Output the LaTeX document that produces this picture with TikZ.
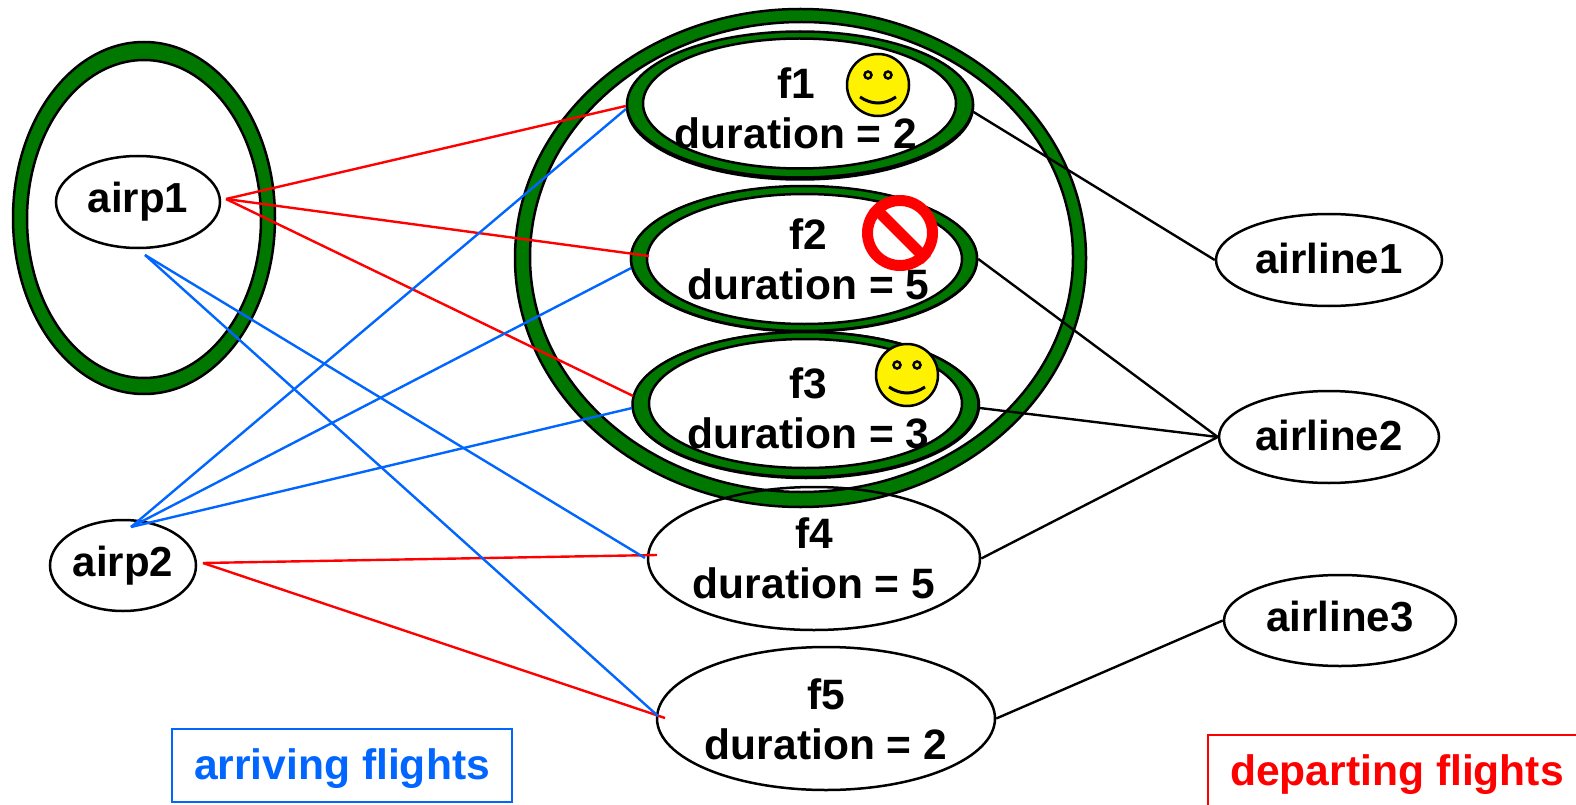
\documentclass[tikz,border=0pt]{standalone}
\usepackage{fontspec}
\setmainfont{Liberation Sans}
\usetikzlibrary{shapes.geometric}
\definecolor{ringgreen}{RGB}{0,120,0}
\definecolor{arriveblue}{RGB}{0,102,255}
\tikzset{
	oval/.style={draw=black, line width=2.5pt, ellipse, inner sep=0pt, align=center, font={\fontsize{42}{50}\bfseries\selectfont}},
	ring/.style={draw=black, line width=2.5pt, fill=ringgreen, even odd rule},
	caption/.style={align=center, font={\fontsize{42.5}{50}\bfseries\selectfont}},
	keybox/.style={draw, line width=2.5pt, rectangle, inner sep=0pt, text height=30pt, text depth=2pt, font={\fontsize{42.6}{50}\bfseries\selectfont}},
	arrive/.style={arriveblue, line width=2.4pt},
	depart/.style={red, line width=2.4pt},
	carrier/.style={black, line width=2.4pt},
	smiley/.pic={
		\draw[black, line width=2.5pt, fill=yellow] (0,0) circle (31);
		\draw[black, line width=2.5pt, fill=yellow] (-10,-10) circle (3.5);
		\draw[black, line width=2.5pt, fill=yellow] (10,-10) circle (3.5);
		\draw[black, line width=3pt] (-18,12) .. controls (-6,20) and (6,20) .. (18,12);
	}
}
\begin{document}
\begin{tikzpicture}[x=1pt, y=-1pt]
			\path[use as bounding box, clip] (0,0) rectangle (1576,805);

			\node[oval, minimum width=346pt, minimum height=147pt] (f1) at (800,106) {};
			\node[oval, minimum width=346pt, minimum height=145pt] (f2) at (804,259) {};
			\node[oval, minimum width=346pt, minimum height=146pt] (f3) at (806,405) {};

			\draw[ring] (144,218) ellipse (131 and 176) (144,219) ellipse (117 and 159);
			\draw[ring] (800.5,258) ellipse (285.5 and 249) (801.5,257) ellipse (271.5 and 235);
			\draw[ring] (800,104.5) ellipse (173 and 73) (799.5,103.5) ellipse (156.5 and 65);
			\draw[ring] (804,258.5) ellipse (173 and 72.5) (804.5,259) ellipse (157.5 and 65);
			\draw[ring] (805.5,404.5) ellipse (173 and 72.5) (805.5,403.5) ellipse (156.5 and 64.5);

			\node[oval, minimum width=164pt, minimum height=92pt] (airp1) at (138,202) {airp1};
			\node[oval, minimum width=146pt, minimum height=91pt] (airp2) at (123,565.5) {airp2};
			\node[oval, minimum width=332pt, minimum height=143pt] (f4) at (814,558.5) {};
			\node[oval, minimum width=338pt, minimum height=143pt] (f5) at (826,718.5) {};
			\node[oval, text height=30pt, text depth=4pt, minimum width=226pt, minimum height=92pt] (airline1) at (1329,260) {airline1};
			\node[oval, text height=30pt, text depth=4pt, minimum width=220pt, minimum height=92pt] (airline2) at (1329,437) {airline2};
			\node[oval, text height=30pt, text depth=8pt, minimum width=232pt, minimum height=91pt] (airline3) at (1340,620.5) {airline3};

			\coordinate (airp1red) at (226,199);
			\coordinate (airp1blue) at (145,255);
			\coordinate (airp2red) at (203,563);
			\coordinate (airp2blue) at (131,527);
			\coordinate (f2red) at (649,256);
			\coordinate (f4red) at (657,555);
			\coordinate (f4blue) at (645,558);
			\coordinate (f5red) at (665,718);
			\coordinate (f5blue) at (658,716);

			\draw[depart] (airp1red) -- (f1.west);
			\draw[depart] (airp1red) -- (f2red);
			\draw[depart] (airp1red) -- (f3.177);
			\draw[depart] (airp2red) -- (f4red);
			\draw[depart] (airp2red) -- (f5red);

			\draw[arrive] (airp2blue) -- (f1.181);
			\draw[arrive] (airp2blue) -- (f2.183);
			\draw[arrive] (airp2blue) -- (f3.181);
			\draw[arrive] (airp1blue) -- (f4blue);
			\draw[arrive] (airp1blue) -- (f5blue);

			\draw[carrier] (f1.-2) -- (airline1.west);
			\draw[carrier] (f2.east) -- (airline2.west);
			\draw[carrier] (f3.-1) -- (airline2.west);
			\draw[carrier] (f4.east) -- (airline2.west);
			\draw[carrier] (f5.east) -- (airline3.west);

			\node[caption] (f1text) at (796,108) {f1\\duration = 2};
			\node[caption] (f2text) at (808.5,259.5) {f2\\duration = 5};
			\node[caption] (f3text) at (808.5,408) {f3\\duration = 3};
			\node[caption] (f4text) at (814,558.5) {f4\\duration = 5};
			\node[caption] (f5text) at (826,719) {f5\\duration = 2};

			\pic at (878,85) {smiley};
			\pic at (907,375) {smiley};

			\node[draw=red, line width=11pt, fill=white, circle, inner sep=0pt, minimum size=65pt] (stopsign) at (900,233) {};
			\draw[red, line width=11pt] (stopsign.135) -- (stopsign.-45);

			\node[keybox, draw=arriveblue, text=arriveblue, minimum width=340pt, minimum height=73pt] (arriving) at (342,765.5) {arriving flights};
			\node[keybox, draw=red, text=red, minimum width=378pt, minimum height=72pt] (departing) at (1397,771) {departing flights};
		\end{tikzpicture}
\end{document}
